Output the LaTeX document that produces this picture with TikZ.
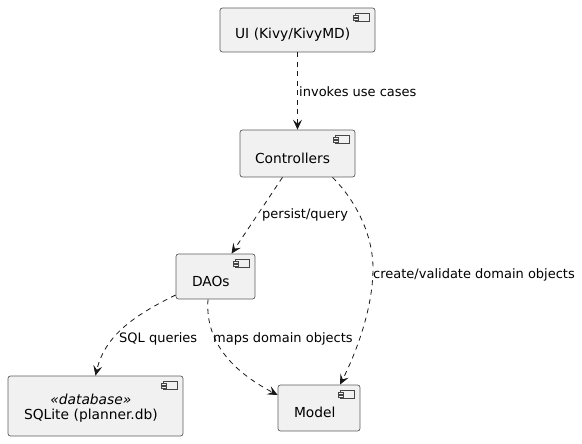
\documentclass[tikz,border=0pt]{standalone}
\usepackage{fontspec}
\setmainfont{DejaVu Sans}
\usetikzlibrary{arrows.meta,calc}
\definecolor{boxfill}{HTML}{F1F1F1}
\definecolor{boxline}{HTML}{181818}
\tikzset{
  comp/.style={draw=boxline!70, fill=boxfill, line width=0.7pt, rounded corners=2.5pt, inner sep=0pt, align=left, font=\fontsize{13.8}{16}\selectfont},
  dep/.style={draw=boxline, line width=0.8pt, dash pattern=on 5pt off 4.5pt, -{Stealth[length=10pt,width=9pt,inset=4pt]}},
  lbl/.style={font=\fontsize{13}{15}\selectfont, anchor=west, inner sep=0pt},
  icon/.style={boxline!80, line width=0.6pt, fill=boxfill}
}
\newcommand{\compicon}[1]{%
  \draw[icon] ($(#1.north east)+(-20,6)$) rectangle ($(#1.north east)+(-6,14)$);
  \draw[icon] ($(#1.north east)+(-22.5,7.7)$) rectangle ($(#1.north east)+(-17.5,9.8)$);
  \draw[icon] ($(#1.north east)+(-22.5,10.6)$) rectangle ($(#1.north east)+(-17.5,12.7)$);
}
\newcommand{\lowtext}[1]{\raisebox{-4.5pt}[\height][\depth]{#1}}
\begin{document}
\begin{tikzpicture}[x=1pt,y=-1pt]
\useasboundingbox (0,0) rectangle (582,444);
\node[comp, minimum width=155pt, minimum height=44pt, text width=125pt] (ui) at (297.5,30) {\lowtext{UI (Kivy/KivyMD)}};
\node[comp, minimum width=115pt, minimum height=47pt, text width=85pt] (ctrl) at (297.5,153.5) {\lowtext{Controllers}};
\node[comp, minimum width=79pt, minimum height=45pt, text width=47pt] (daos) at (215.5,276.5) {\lowtext{DAOs}};
\node[comp, minimum width=175pt, minimum height=60pt, text width=143pt] (db) at (95.5,406) {\raisebox{-2.5pt}[\height][\depth]{\begin{tabular}{@{}c@{}}\itshape «database»\\[-1pt] SQLite (planner.db)\end{tabular}}};
\node[comp, minimum width=82pt, minimum height=46pt, text width=50pt] (model) at (319,408) {\lowtext{Model}};
\compicon{ui}
\compicon{ctrl}
\compicon{daos}
\compicon{db}
\compicon{model}

\draw[dep] (ui.south) -- (ctrl.north);
\node[lbl] (l1) at (299,92) {invokes use cases};

\draw[dep] ($(ctrl.south)+(-15,0)$) -- ($(daos.north)+(16,0)$);
\node[lbl] (l2) at (262,215) {persist/query};

\draw[dep] ($(ctrl.south)+(35,0)$) .. controls (360,205) and (373,240) .. (373,268) .. controls (373,310) and (355,355) .. ($(model.north)+(21,0)$);
\node[lbl] (l3) at (373,275) {create/validate domain objects};

\draw[dep] ($(daos.south)+(-7.5,0)$) .. controls (205,340) and (230,370) .. ($(model.west)+(0,-13)$);
\node[lbl] (l4) at (213,339) {maps domain objects};

\draw[dep] ($(daos.west)+(0,18.5)$) .. controls (135,315) and (105,335) .. (db.north);
\node[lbl] (l5) at (119,339) {SQL queries};
\end{tikzpicture}
\end{document}
